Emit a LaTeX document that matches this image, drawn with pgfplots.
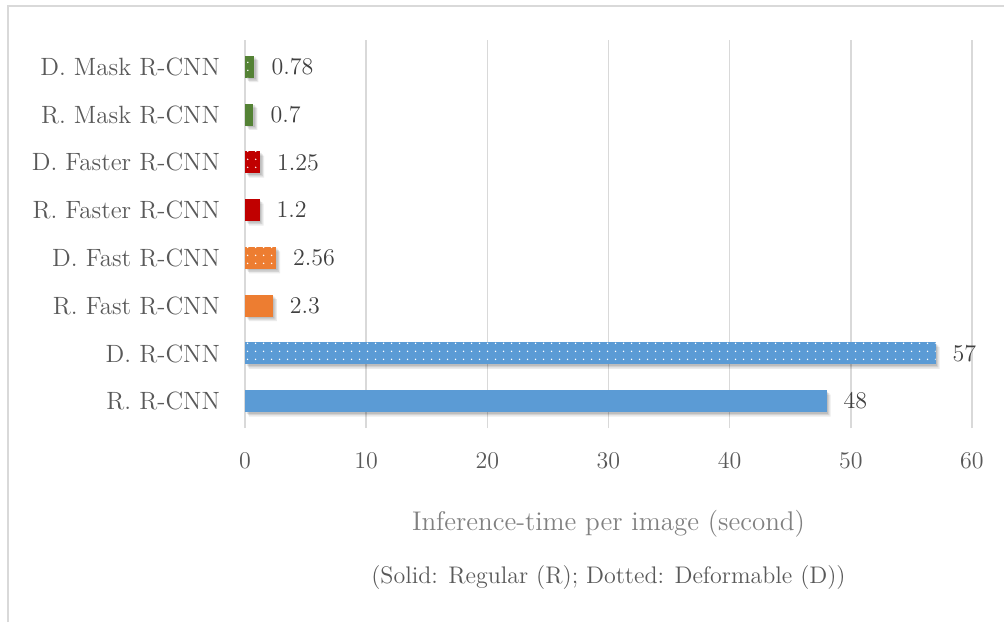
\documentclass[border=0pt]{standalone}
\usepackage{pgfplots}
\pgfplotsset{compat=1.18}
\usepackage{pgfplotstable}
\usetikzlibrary{patterns.meta}

\definecolor{cblue}{HTML}{5B9BD5}
\definecolor{corange}{HTML}{ED7D31}
\definecolor{cred}{HTML}{C00000}
\definecolor{cgreen}{HTML}{548235}
\definecolor{gridgray}{HTML}{D9D9D9}
\definecolor{labgray}{HTML}{595959}
\definecolor{valgray}{HTML}{404040}

% inference time per image, bottom (0) to top (7)
\pgfplotstableread{
t     pos
48    0
57    1
2.3   2
2.56  3
1.2   4
1.25  5
0.7   6
0.78  7
}\timedata

\tikzset{
  solidbar/.style={fill=#1, draw=none},
  dotbar/.style={fill=#1, draw=none,
    postaction={pattern={Dots[radius=0.45pt, distance=4pt]}, pattern color=white}},
  shadowbar/.style={fill=black, draw=none, fill opacity=#1},
}

\begin{document}
\begin{tikzpicture}
\begin{axis}[
  name=main,
  at={(0,0)}, anchor=south west,
  scale only axis,
  width=363.5pt, height=194pt,
  xmin=0, xmax=60,
  ymin=-0.56, ymax=7.56,
  xbar, bar width=11pt, bar shift=0pt,
  xtick={0,10,...,60},
  ytick={0,...,7},
  yticklabels={R. R-CNN, D. R-CNN, R. Fast R-CNN, D. Fast R-CNN,
               R. Faster R-CNN, D. Faster R-CNN, R. Mask R-CNN, D. Mask R-CNN},
  major tick length=0pt,
  axis line style={draw=none},
  xmajorgrids, grid style={gridgray, line width=0.8pt},
  tick label style={font=\fontsize{12.5}{15}\selectfont, text=labgray},
  xticklabel style={yshift=-9pt},
  yticklabel style={xshift=-9pt},
  xlabel={Inference-time per image (second)},
  xlabel style={font=\fontsize{13.5}{16}\selectfont, text=gray, yshift=-14pt},
  point meta=x,
  every node near coord/.append style={font=\fontsize{12.5}{15}\selectfont, text=valgray, anchor=west, xshift=5pt},
  clip=false,
]
% soft drop shadows under the bars
\addplot[shadowbar=0.08, bar shift=-2.2pt, xshift=2.0pt, forget plot] table[x=t, y=pos] {\timedata};
\addplot[shadowbar=0.10, bar shift=-1.5pt, xshift=1.4pt, forget plot] table[x=t, y=pos] {\timedata};
\addplot[shadowbar=0.10, bar shift=-0.8pt, xshift=0.8pt, forget plot] table[x=t, y=pos] {\timedata};
% bars
\addplot[solidbar=cblue, nodes near coords]    coordinates {(48,0)};
\addplot[dotbar=cblue, nodes near coords]      coordinates {(57,1)};
\addplot[solidbar=corange, nodes near coords]  coordinates {(2.3,2)};
\addplot[dotbar=corange, nodes near coords]    coordinates {(2.56,3)};
\addplot[solidbar=cred, nodes near coords]     coordinates {(1.2,4)};
\addplot[dotbar=cred, nodes near coords]       coordinates {(1.25,5)};
\addplot[solidbar=cgreen, nodes near coords]   coordinates {(0.7,6)};
\addplot[dotbar=cgreen, nodes near coords]     coordinates {(0.78,7)};
\end{axis}
% subtitle under the axis title
\node[font=\fontsize{12}{14}\selectfont, text=labgray] at ([yshift=-75pt]main.south) {(Solid: Regular (R); Dotted: Deformable (D))};
% chart frame (top and left edges)
\path[use as bounding box] (-122.5pt,-97pt) rectangle (379.5pt,214pt);
\draw[gridgray, line width=1pt] (-118.5pt,-97pt) -- (-118.5pt,211pt) -- (379.5pt,211pt);
\end{tikzpicture}
\end{document}
